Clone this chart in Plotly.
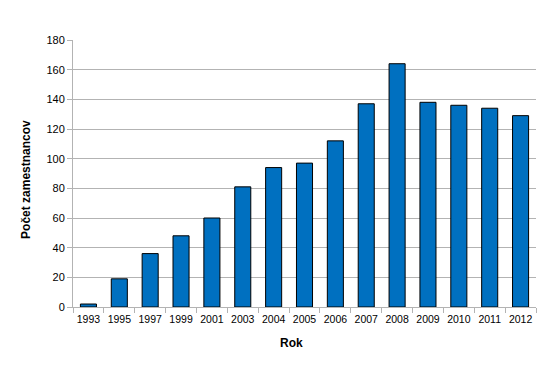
import plotly.graph_objects as go

years = ["1993", "1995", "1997", "1999", "2001", "2003", "2004", "2005",
         "2006", "2007", "2008", "2009", "2010", "2011", "2012"]
employees = [2, 19, 36, 48, 60, 81, 94, 97, 112, 137, 164, 138, 136, 134, 129]
y_ticks = [0, 20, 40, 60, 80, 100, 120, 140, 160, 180]
x_title = "Rok"
y_title = "Počet zamestnancov"

fig = go.Figure(go.Bar(
    x=years, y=employees,
    marker=dict(color="#0070c0", line=dict(color="#000000", width=1)),
))

# page body has an 8px default margin, so the figure is sized to fit inside it
fig.update_layout(
    width=551, height=359,
    margin=dict(l=65, r=23, t=32, b=60),
    plot_bgcolor="white", paper_bgcolor="white",
    bargap=0.48,
    showlegend=False,
    font=dict(family="Liberation Sans, Arial, sans-serif", size=11, color="#000000"),
    annotations=[
        dict(text="<b>" + x_title + "</b>", xref="paper", yref="paper",
             x=0.471, y=-0.135, xanchor="center", yanchor="middle",
             showarrow=False, font=dict(size=12)),
        dict(text="<b>" + y_title + "</b>", xref="paper", yref="paper",
             x=-0.1015, y=0.476, xanchor="center", yanchor="middle",
             textangle=-90, showarrow=False, font=dict(size=12)),
    ],
)
fig.update_xaxes(
    type="category", tickangle=0, automargin=False,
    tickfont=dict(size=10.5), ticklabelstandoff=2,
    showline=True, linecolor="#b3b3b3", linewidth=1,
    ticks="outside", tickson="boundaries", ticklen=5, tickcolor="#b3b3b3",
    showgrid=False,
)
fig.update_yaxes(
    range=[0, 180], tickvals=y_ticks, automargin=False,
    showline=True, linecolor="#b3b3b3", linewidth=1,
    ticks="outside", ticklen=5, tickcolor="#b3b3b3",
    showgrid=True, gridcolor="#b3b3b3", gridwidth=1,
    zeroline=False,
)

fig.write_html("out.html")
